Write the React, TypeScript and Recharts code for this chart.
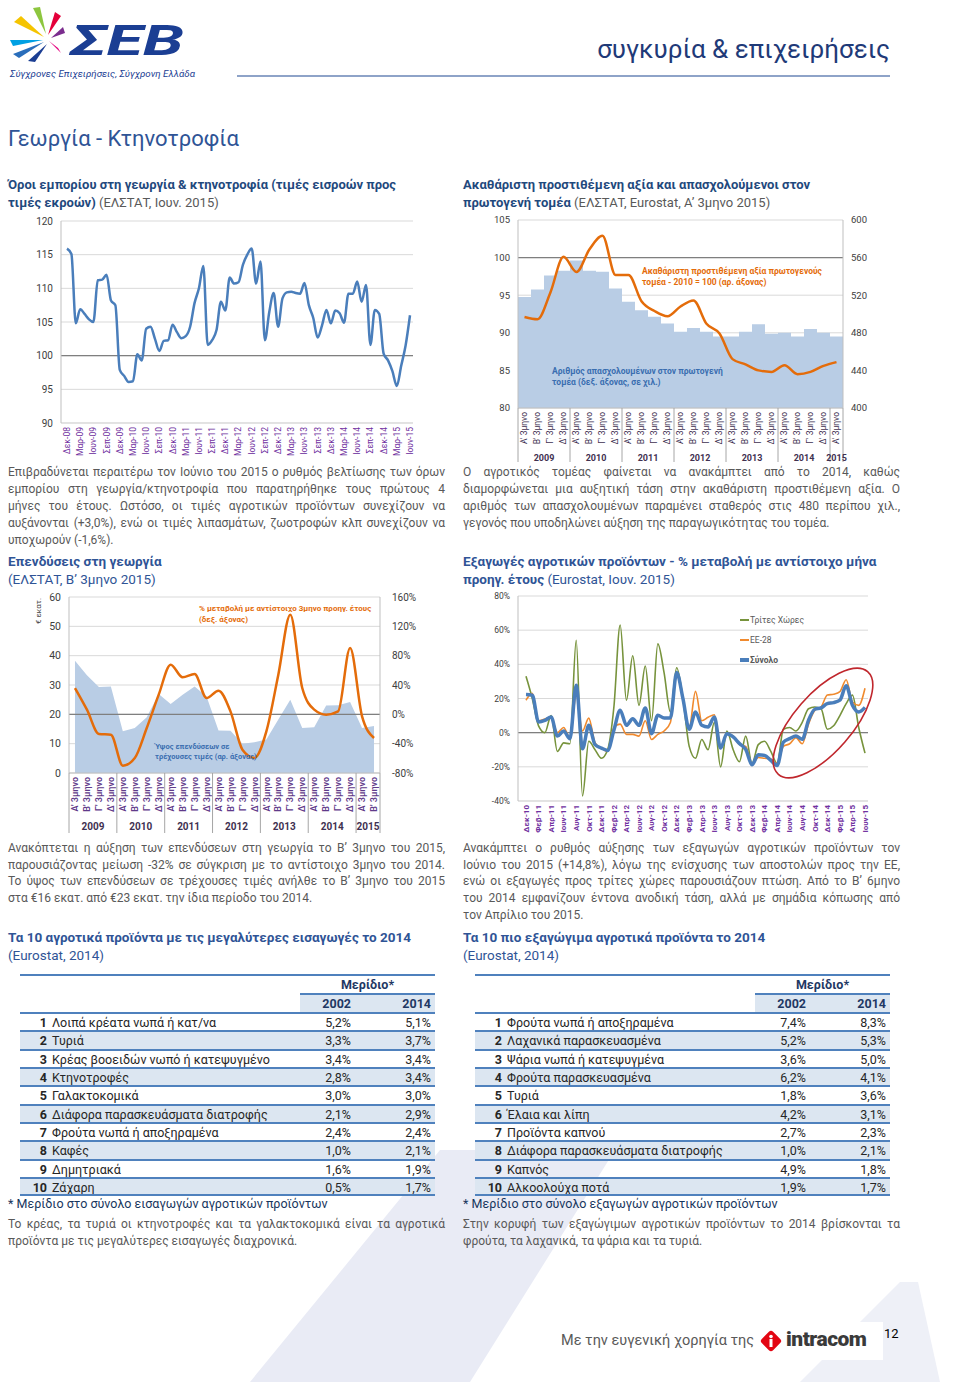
import React from "react";
import {
  LineChart,
  Line,
  ComposedChart,
  Bar,
  Area,
  XAxis,
  YAxis,
  CartesianGrid,
  ReferenceLine,
} from "recharts";

const FONT = "Roboto, 'Noto Sans', 'DejaVu Sans', sans-serif";
const TITLE_BLUE = "#1F497D";
const HEAD_BLUE = "#2F5496";
const TEXT_GREY = "#595959";
const AXIS_TXT = "#404040";
const GRID = "#D9D9D9";
const ZERO = "#7F7F7F";
const PURPLE = "#7030A0";
const LINE_BLUE = "#4A7EBB";
const ORANGE = "#E46C0A";
const LIGHT_BLUE = "#B9CDE5";
const GREEN = "#77933C";
const EU_ORANGE = "#F08A2E";

// month / quarter category helpers
const MONTHS = ["Ιαν", "Φεβ", "Μαρ", "Απρ", "Μαϊ", "Ιουν", "Ιουλ", "Αυγ", "Σεπ", "Οκτ", "Νοε", "Δεκ"];
function monthSeq(year: number, month: number, count: number) {
  const out: string[] = [];
  for (let i = 0; i < count; i++) {
    const m = (month + i) % 12;
    const y = year + Math.floor((month + i) / 12);
    out.push(`${MONTHS[m]}-${String(y % 100).padStart(2, "0")}`);
  }
  return out;
}
const QUARTERS = ["Α' 3μηνο", "Β' 3μηνο", "Γ' 3μηνο", "Δ' 3μηνο"];
function quarterYears(years: string[], counts: number[]) {
  const out: string[] = [];
  years.forEach((y, i) => {
    for (let k = 0; k < counts[i]; k++) out.push(y);
  });
  return out;
}

// --- Όροι εμπορίου (Δεκ-08 .. Ιουν-15)
const TERMS_MONTHS = monthSeq(2008, 11, 79);
const TERMS_OF_TRADE = [
  115.9, 115.1, 104.8, 106.9, 106.2, 105.4, 105.0, 111.2, 111.3, 112.0,
  108.2, 107.5, 97.9, 97.0, 96.1, 96.2, 100.2, 99.3, 104.0, 104.3,
  102.5, 100.7, 102.2, 102.3, 104.6, 103.5, 102.6, 102.9, 104.3, 107.8,
  110.0, 113.3, 101.6, 102.3, 103.8, 108.0, 106.7, 111.6, 110.7, 110.9,
  113.5, 115.0, 115.9, 110.7, 114.0, 102.3, 106.5, 109.3, 104.3, 108.5,
  109.4, 109.5, 109.3, 109.2, 110.8, 107.5, 105.6, 102.7, 104.5, 106.8,
  104.8, 106.7, 106.3, 104.9, 109.2, 109.2, 111.0, 108.0, 110.5, 101.6,
  106.8, 106.2, 100.3, 99.3, 97.7, 95.5, 98.5, 101.5, 106.0,
];
const TERMS_TICKS = [90, 95, 100, 105, 110, 115, 120];

// --- ΑΠΑ & απασχολούμενοι (Α' 3μηνο 2009 .. Α' 3μηνο 2015)
const GVA_YEARS = quarterYears(["2009", "2010", "2011", "2012", "2013", "2014", "2015"], [4, 4, 4, 4, 4, 4, 1]);
const GVA_INDEX = [
  92.1, 91.8, 95.4, 100.1, 98.1, 101.1, 102.9, 97.7, 97.7, 94.2, 92.9, 92.2,
  93.5, 94.3, 91.2, 89.9, 86.5, 85.8, 85.0, 84.8, 85.7, 84.5, 84.8, 85.6, 86.1,
];
const EMPLOYED = [
  518, 526, 541, 546, 557, 546, 545, 527, 513, 504, 497, 490,
  481, 485, 481, 476, 476, 481, 489, 479, 480, 476, 484, 480, 476,
];
const GVA_LEFT_TICKS = [80, 85, 90, 95, 100, 105];
const GVA_RIGHT_TICKS = [400, 440, 480, 520, 560, 600];

// --- Επενδύσεις (Α' 3μηνο 2009 .. Β' 3μηνο 2015)
const INV_YEARS = quarterYears(["2009", "2010", "2011", "2012", "2013", "2014", "2015"], [4, 4, 4, 4, 4, 4, 2]);
const INVESTMENT = [
  38.3, 33.3, 29.3, 29.5, 14.2, 15.3, 19.0, 26.9, 23.5, 26.7, 29.5, 26.1, 14.5,
  14.4, 10.0, 10.5, 11.4, 18.2, 25.0, 15.3, 15.6, 23.0, 23.1, 24.2, 15.3, 16.0,
];
const INV_CHANGE = [
  35.9, 6.4, -26.8, -27.7, -70, -59.5, -18.6, 26.8, 67.7, 50.5, 55, 22.3, 32.3,
  4, -48.2, -59.5, -23.2, 54.1, 135.9, 35.9, 6.4, -0.5, 4, 90.5, -2.7, -32.3,
];
const INV_LEFT_TICKS = [0, 10, 20, 30, 40, 50, 60];
const INV_RIGHT_TICKS = [-80, -40, 0, 40, 80, 120, 160];

// --- Εξαγωγές (Δεκ-10 .. Ιουν-15)
const EXP_MONTHS = monthSeq(2010, 11, 55);
const EXP_THIRD = [
  33, 20, 4, 0, 10, -11, -6, -6.5, 54, -37, -5, -10, -15, -10, 15, 63, 19, 45, 16, 39,
  7, 52, 35, 12, 38, 20, -8, -15, -4, -10, 6, -20, 1, -10, -17, -2, -18, -7, -5, -11,
  -18, 2, 3, 1, 6, 14, 15, 14, 2, 4, 10, 17, 22, 3, -12,
];
const EXP_EU28 = [
  19, 23, 7, 8, 9, 0, 3, -3, 21.9, 1, 8.5, -6, -9, -11, 3, 5, -1, -1, -2, 7,
  -4, -1, 1, 6, 34, 20, 3, 24.2, 7, 9, 10.5, -9, -0.5, -2, -7, -8, -18.5, -14.5, -15, -15.5,
  -18, -8, -6.5, -3, -6.5, 5, 13, 15, 22, 22.5, 24, 31, 18, 16, 26,
];
const EXP_TOTAL = [
  22.3, 21.9, 6.3, 7.2, 9.2, -2, 1, -3.5, 27.7, -9.4, 4.3, -7, -9, -10.4, 1.4, 13.1, 4.3, 8.2, 4.3, 14.5,
  -0.6, 10.2, 8.6, 8.6, 35.2, 19.9, 2, 12.1, 4.3, 3.3, 9.2, -9, -0.6, -2.5, -6.4, -9.8, -18.8, -12.9, -13.3, -16.2,
  -19.2, -5.5, -3.5, -2, -3.9, 7.2, 13.7, 14.5, 17, 17.6, 19, 27.4, 16, 12.1, 14.8,
];
const EXP_TICKS = [-40, -20, 0, 20, 40, 60, 80];

// --- Πίνακες
const IMP_PRODUCTS = [
  "Λοιπά κρέατα νωπά ή κατ/να",
  "Τυριά",
  "Κρέας βοοειδών νωπό ή κατεψυγμένο",
  "Κτηνοτροφές",
  "Γαλακτοκομικά",
  "Διάφορα παρασκευάσματα διατροφής",
  "Φρούτα νωπά ή αποξηραμένα",
  "Καφές",
  "Δημητριακά",
  "Ζάχαρη",
];
const IMP_2002 = ["5,2%", "3,3%", "3,4%", "2,8%", "3,0%", "2,1%", "2,4%", "1,0%", "1,6%", "0,5%"];
const IMP_2014 = ["5,1%", "3,7%", "3,4%", "3,4%", "3,0%", "2,9%", "2,4%", "2,1%", "1,9%", "1,7%"];
const EXP_PRODUCTS = [
  "Φρούτα νωπά ή αποξηραμένα",
  "Λαχανικά παρασκευασμένα",
  "Ψάρια νωπά ή κατεψυγμένα",
  "Φρούτα παρασκευασμένα",
  "Τυριά",
  "Έλαια και λίπη",
  "Προϊόντα καπνού",
  "Διάφορα παρασκευάσματα διατροφής",
  "Καπνός",
  "Αλκοολούχα ποτά",
];
const EXP_2002 = ["7,4%", "5,2%", "3,6%", "6,2%", "1,8%", "4,2%", "2,7%", "1,0%", "4,9%", "1,9%"];
const EXP_2014 = ["8,3%", "5,3%", "5,0%", "4,1%", "3,6%", "3,1%", "2,3%", "2,1%", "1,8%", "1,7%"];

// chart tables built from the arrays
const termsData = TERMS_MONTHS.map((m, i) => ({ m, v: TERMS_OF_TRADE[i] }));
const gvaData = GVA_INDEX.map((v, i) => ({ k: `g${i}`, q: QUARTERS[i % 4], yr: GVA_YEARS[i], gva: v, emp: EMPLOYED[i] }));
const invData = INVESTMENT.map((v, i) => ({ k: `i${i}`, q: QUARTERS[i % 4], yr: INV_YEARS[i], inv: v, chg: INV_CHANGE[i] }));
const expData = EXP_MONTHS.map((m, i) => ({ m, third: EXP_THIRD[i], eu: EXP_EU28[i], total: EXP_TOTAL[i] }));

function RotTick(props: any) {
  const { x, y, payload, labels, color, size, weight } = props;
  const txt = labels ? labels[props.index] : payload.value;
  return (
    <text
      x={x}
      y={y}
      transform={`rotate(-90 ${x} ${y})`}
      dy={size * 0.35}
      textAnchor="end"
      fill={color}
      fontSize={size}
      fontWeight={weight || 400}
      fontFamily={FONT}
    >
      {txt}
    </text>
  );
}

function makeYearTick(years: string[], bw: number, up: number, baseDy: number, down: number, size: number) {
  return function YearTick(props: any) {
    const { x, y, index } = props;
    const cur = years[index];
    const first = index === 0 || years[index - 1] !== cur;
    const last = index === years.length - 1;
    let n = 0;
    for (let k = index; k < years.length && years[k] === cur; k++) n++;
    return (
      <g>
        {first && (
          <line x1={x - bw / 2} x2={x - bw / 2} y1={y - up} y2={y + down} stroke="#A6A6A6" strokeWidth={1} />
        )}
        {last && <line x1={x + bw / 2} x2={x + bw / 2} y1={y - up} y2={y + down} stroke="#A6A6A6" strokeWidth={1} />}
        {first && (
          <text x={x + ((n - 1) * bw) / 2} y={y + baseDy} textAnchor="middle" fill="#3F3151" fontSize={size} fontWeight={700} fontFamily={FONT}>
            {cur}
          </text>
        )}
      </g>
    );
  };
}

const pct = (v: number) => `${v}%`;

function Lines({ x, y, w, lh, size, color, lines, justify = true }: any) {
  return (
    <div style={{ position: "absolute", left: x, top: y, width: w, fontSize: size, lineHeight: `${lh}px`, color }}>
      {lines.map((t: any, i: number) => (
        <div
          key={i}
          style={{
            textAlign: justify ? "justify" : "left",
            textAlignLast: justify && i < lines.length - 1 ? "justify" : "left",
            whiteSpace: "nowrap",
          }}
        >
          {t}
        </div>
      ))}
    </div>
  );
}

function Note({ x, y, color, size, lines }: any) {
  return (
    <div style={{ position: "absolute", left: x, top: y, color, fontSize: size, fontWeight: 700, lineHeight: `${size + 2.5}px`, whiteSpace: "nowrap" }}>
      {lines.map((t: string, i: number) => (
        <div key={i}>{t}</div>
      ))}
    </div>
  );
}

function ShareTable({ x, products, v2002, v2014 }: any) {
  const rowH = 18.33;
  const top = 1012;
  const bl = "2px solid #4F81BD";
  return (
    <div style={{ position: "absolute", left: x, top: 974, width: 415, fontSize: 12.5, color: "#262626" }}>
      <div style={{ position: "absolute", left: 0, top: 0, width: 415, borderTop: bl }} />
      <div style={{ position: "absolute", left: 280, top: 2, width: 135, height: 17, textAlign: "center", fontWeight: 700, color: "#1F3864", lineHeight: "17px" }}>
        Μερίδιο*
      </div>
      <div style={{ position: "absolute", left: 280, top: 19, width: 135, height: 18, background: "#DCE6F1", borderTop: bl }} />
      <div style={{ position: "absolute", left: 280, top: 21, width: 51, textAlign: "right", fontWeight: 700, lineHeight: "17px", color: "#1F3864" }}>2002</div>
      <div style={{ position: "absolute", left: 280, top: 21, width: 131, textAlign: "right", fontWeight: 700, lineHeight: "17px", color: "#1F3864" }}>2014</div>
      {products.map((p: string, i: number) => (
        <div
          key={p}
          style={{
            position: "absolute",
            left: 0,
            top: top - 974 + i * rowH,
            width: 415,
            height: rowH,
            borderTop: bl,
            background: i % 2 === 1 ? "#DCE6F1" : "transparent",
            lineHeight: `${rowH - 1}px`,
            boxSizing: "border-box",
          }}
        >
          <span style={{ position: "absolute", left: 0, width: 27, textAlign: "right", fontWeight: 700 }}>{i + 1}</span>
          <span style={{ position: "absolute", left: 32 }}>{p}</span>
          <span style={{ position: "absolute", left: 280, width: 51, textAlign: "right" }}>{v2002[i]}</span>
          <span style={{ position: "absolute", left: 280, width: 131, textAlign: "right" }}>{v2014[i]}</span>
        </div>
      ))}
      <div style={{ position: "absolute", left: 0, top: top - 974 + 10 * rowH - 1, width: 415, borderTop: bl }} />
    </div>
  );
}

function Logo() {
  return (
    <svg style={{ position: "absolute", left: 0, top: 0 }} width={220} height={85}>
      <polygon points="14,22 21,16 44,37" fill="#F5C400" />
      <polygon points="33,8 40,7 46,34" fill="#8DC63F" />
      <polygon points="55,12 61,16 48,35" fill="#E4003A" />
      <polygon points="63,27 65,33 51,38" fill="#7B2D8E" />
      <polygon points="58,48 61,53 49,41" fill="#E5007E" />
      <polygon points="10,40 13,46 43,40" fill="#00A0E3" />
      <polygon points="13,54 19,58 44,42" fill="#2A6EBB" />
      <polygon points="28,61 35,62 47,44" fill="#1B3E93" />
      <text x={70} y={55} fontSize={42} fontWeight={700} fontStyle="italic" fill="#1B3E93" fontFamily={FONT} textLength={114} lengthAdjust="spacingAndGlyphs">
        ΣΕΒ
      </text>
      <text x={10} y={77} fontSize={9.5} fontStyle="italic" fill="#1B3E93" fontFamily={FONT} textLength={185} lengthAdjust="spacingAndGlyphs">
        Σύγχρονες Επιχειρήσεις, Σύγχρονη Ελλάδα
      </text>
    </svg>
  );
}

function Background() {
  return (
    <svg style={{ position: "absolute", left: 0, top: 0 }} width={960} height={1382}>
      <polygon points="440,1150 615,1150 470,1382 250,1382" fill="#E9EBF5" />
      <polygon points="900,1282 918,1282 940,1382 800,1382" fill="#EEF0F7" />
    </svg>
  );
}

export default function App() {
  const tickStyle = (size: number) => ({ fill: AXIS_TXT, fontSize: size, fontFamily: FONT });
  return (
    <div style={{ position: "absolute", left: 0, top: 0, width: 960, height: 1382, background: "#fff", fontFamily: FONT, overflow: "hidden" }}>
      <Background />
      <Logo />
      <div style={{ position: "absolute", right: 70, top: 34, fontSize: 26, color: "#1F3A78", whiteSpace: "nowrap" }}>συγκυρία &amp; επιχειρήσεις</div>
      <div style={{ position: "absolute", left: 237, top: 75, width: 653, height: 2, background: "#8EA3C8" }} />
      <div style={{ position: "absolute", left: 8, top: 126, fontSize: 22, color: HEAD_BLUE, whiteSpace: "nowrap" }}>Γεωργία - Κτηνοτροφία</div>

      {/* chart titles, row 1 */}
      <Lines
        x={8}
        y={176}
        w={440}
        lh={18}
        size={13}
        color={TEXT_GREY}
        justify={false}
        lines={[
          <b style={{ color: TITLE_BLUE }}>Όροι εμπορίου στη γεωργία &amp; κτηνοτροφία (τιμές εισροών προς</b>,
          <span>
            <b style={{ color: TITLE_BLUE }}>τιμές εκροών)</b> (ΕΛΣΤΑΤ, Ιουν. 2015)
          </span>,
        ]}
      />
      <Lines
        x={463}
        y={176}
        w={440}
        lh={18}
        size={13}
        color={TEXT_GREY}
        justify={false}
        lines={[
          <b style={{ color: TITLE_BLUE }}>Ακαθάριστη προστιθέμενη αξία και απασχολούμενοι στον</b>,
          <span>
            <b style={{ color: TITLE_BLUE }}>πρωτογενή τομέα</b> (ΕΛΣΤΑΤ, Eurostat, Α’ 3μηνο 2015)
          </span>,
        ]}
      />

      {/* Chart 1: terms of trade */}
      <div style={{ position: "absolute", left: 0, top: 212 }}>
        <LineChart width={430} height={250} data={termsData} margin={{ top: 9, right: 17, bottom: 0, left: 0 }}>
          <CartesianGrid vertical={false} stroke={GRID} />
          <XAxis
            dataKey="m"
            interval={2}
            height={39}
            tickSize={0}
            tickMargin={4}
            padding={{ left: 6, right: 3 }}
            axisLine={{ stroke: GRID }}
            tickLine={false}
            tick={(p: any) => <RotTick {...p} color={PURPLE} size={8.5} />}
          />
          <YAxis domain={[90, 120]} ticks={TERMS_TICKS} width={61} axisLine={{ stroke: "#BFBFBF" }} tickLine={false} tick={tickStyle(10)} />
          <ReferenceLine y={100} stroke={ZERO} strokeWidth={1.2} />
          <Line type="monotone" dataKey="v" stroke={LINE_BLUE} strokeWidth={2.5} dot={false} isAnimationActive={false} />
        </LineChart>
      </div>

      {/* Chart 2: GVA & employment */}
      <div style={{ position: "absolute", left: 460, top: 212 }}>
        <ComposedChart width={420} height={253} data={gvaData} barCategoryGap={0} margin={{ top: 8, right: 0, bottom: 0, left: 0 }}>
          <CartesianGrid vertical={false} stroke={GRID} yAxisId="l" />
          <XAxis
            dataKey="k"
            scale="band"
            interval={0}
            height={42}
            tickSize={0}
            tickMargin={4}
            axisLine={{ stroke: "#BFBFBF" }}
            tickLine={false}
            tick={(p: any) => <RotTick {...p} labels={gvaData.map((d) => d.q)} color="#403151" size={8.5} />}
          />
          <XAxis
            xAxisId="yr"
            dataKey="k"
            scale="band"
            interval={0}
            height={15}
            tickSize={0}
            tickMargin={0}
            axisLine={false}
            tickLine={false}
            tick={makeYearTick(GVA_YEARS, 13, 42, 11, 12, 9)}
          />
          <YAxis yAxisId="l" domain={[80, 105]} ticks={GVA_LEFT_TICKS} width={58} axisLine={{ stroke: "#BFBFBF" }} tickLine={false} tick={tickStyle(9.5)} />
          <YAxis yAxisId="r" orientation="right" domain={[400, 600]} ticks={GVA_RIGHT_TICKS} width={37} axisLine={{ stroke: "#BFBFBF" }} tickLine={false} tick={tickStyle(9.5)} />
          <Bar yAxisId="r" dataKey="emp" fill={LIGHT_BLUE} isAnimationActive={false} />
          <ReferenceLine yAxisId="l" y={100} stroke={ZERO} strokeWidth={1.2} />
          <Line yAxisId="l" type="monotone" dataKey="gva" stroke={ORANGE} strokeWidth={2.5} dot={false} isAnimationActive={false} />
        </ComposedChart>
      </div>
      <Note x={642} y={266} color={ORANGE} size={8.5} lines={["Ακαθάριστη προστιθέμενη αξία πρωτογενούς", "τομέα - 2010 = 100 (αρ. άξονας)"]} />
      <Note x={552} y={366} color="#3A6DB0" size={8.5} lines={["Αριθμός απασχολουμένων στον πρωτογενή", "τομέα (δεξ. άξονας, σε χιλ.)"]} />

      {/* paragraphs under row 1 */}
      <Lines
        x={8}
        y={464}
        w={437}
        lh={17}
        size={12}
        color={TEXT_GREY}
        lines={[
          "Επιβραδύνεται περαιτέρω τον Ιούνιο του 2015 ο ρυθμός βελτίωσης των όρων",
          "εμπορίου στη γεωργία/κτηνοτροφία που παρατηρήθηκε τους πρώτους 4",
          "μήνες του έτους. Ωστόσο, οι τιμές αγροτικών προϊόντων συνεχίζουν να",
          "αυξάνονται (+3,0%), ενώ οι τιμές λιπασμάτων, ζωοτροφών κλπ συνεχίζουν να",
          "υποχωρούν (-1,6%).",
        ]}
      />
      <Lines
        x={463}
        y={464}
        w={437}
        lh={17}
        size={12}
        color={TEXT_GREY}
        lines={[
          "Ο αγροτικός τομέας φαίνεται να ανακάμπτει από το 2014, καθώς",
          "διαμορφώνεται μια αυξητική τάση στην ακαθάριστη προστιθέμενη αξία. Ο",
          "αριθμός των απασχολουμένων παραμένει σταθερός στις 480 περίπου χιλ.,",
          "γεγονός που υποδηλώνει αύξηση της παραγωγικότητας του τομέα.",
        ]}
      />

      {/* chart titles, row 2 */}
      <Lines
        x={8}
        y={552}
        w={440}
        lh={18}
        size={13.5}
        color={HEAD_BLUE}
        justify={false}
        lines={[<b>Επενδύσεις στη γεωργία</b>, "(ΕΛΣΤΑΤ, Β’ 3μηνο 2015)"]}
      />
      <Lines
        x={463}
        y={552}
        w={440}
        lh={18}
        size={13.5}
        color={HEAD_BLUE}
        justify={false}
        lines={[
          <b>Εξαγωγές αγροτικών προϊόντων - % μεταβολή με αντίστοιχο μήνα</b>,
          <span>
            <b>προηγ. έτους</b> (Eurostat, Ιουν. 2015)
          </span>,
        ]}
      />

      {/* Chart 3: investment */}
      <div style={{ position: "absolute", left: 0, top: 590 }}>
        <ComposedChart width={425} height={243} data={invData} margin={{ top: 7, right: 0, bottom: 0, left: 0 }}>
          <CartesianGrid vertical={false} stroke={GRID} yAxisId="l" />
          <XAxis
            dataKey="k"
            scale="band"
            interval={0}
            height={42}
            tickSize={0}
            tickMargin={4}
            axisLine={{ stroke: "#BFBFBF" }}
            tickLine={false}
            tick={(p: any) => <RotTick {...p} labels={invData.map((d) => d.q)} color="#5F3A8A" size={9} weight={600} />}
          />
          <XAxis
            xAxisId="yr"
            dataKey="k"
            scale="band"
            interval={0}
            height={18}
            tickSize={0}
            tickMargin={0}
            axisLine={false}
            tickLine={false}
            tick={makeYearTick(INV_YEARS, 311 / 26, 42, 15, 20, 10)}
          />
          <YAxis yAxisId="l" domain={[0, 60]} ticks={INV_LEFT_TICKS} width={69} axisLine={{ stroke: "#BFBFBF" }} tickLine={false} tick={tickStyle(10.5)} />
          <YAxis
            yAxisId="r"
            orientation="right"
            domain={[-80, 160]}
            ticks={INV_RIGHT_TICKS}
            width={45}
            axisLine={{ stroke: "#BFBFBF" }}
            tickLine={false}
            tickMargin={6}
            tickFormatter={pct}
            tick={tickStyle(10)}
          />
          <Area yAxisId="l" type="linear" dataKey="inv" fill={LIGHT_BLUE} fillOpacity={1} stroke="none" isAnimationActive={false} />
          <ReferenceLine yAxisId="r" y={0} stroke={ZERO} strokeWidth={1.2} />
          <Line yAxisId="r" type="monotone" dataKey="chg" stroke={ORANGE} strokeWidth={2.5} dot={false} isAnimationActive={false} />
        </ComposedChart>
      </div>
      <div style={{ position: "absolute", left: 34, top: 598, fontSize: 8, color: AXIS_TXT, writingMode: "vertical-rl", transform: "rotate(180deg)", whiteSpace: "nowrap" }}>
        € εκατ.
      </div>
      <Note x={199} y={604} color={ORANGE} size={8} lines={["% μεταβολή με αντίστοιχο 3μηνο προηγ. έτους", "(δεξ. άξονας)"]} />
      <Note x={155} y={742} color="#3A6DB0" size={7.5} lines={["Ύψος επενδύσεων σε", "τρέχουσες τιμές (αρ. άξονας)"]} />

      {/* Chart 4: exports */}
      <div style={{ position: "absolute", left: 460, top: 590 }}>
        <LineChart width={428} height={247} data={expData} margin={{ top: 6, right: 20, bottom: 0, left: 0 }}>
          <CartesianGrid vertical={false} stroke={GRID} />
          <XAxis
            dataKey="m"
            interval={1}
            height={36}
            tickSize={0}
            tickMargin={4}
            padding={{ left: 8, right: 3 }}
            axisLine={{ stroke: GRID }}
            tickLine={false}
            tick={(p: any) => <RotTick {...p} color={PURPLE} size={8} weight={700} />}
          />
          <YAxis domain={[-40, 80]} ticks={EXP_TICKS} width={58} axisLine={{ stroke: "#BFBFBF" }} tickLine={false} tickFormatter={pct} tick={tickStyle(8.5)} />
          <ReferenceLine y={0} stroke={ZERO} strokeWidth={1.2} />
          <Line type="monotone" dataKey="third" stroke={GREEN} strokeWidth={1.6} dot={false} isAnimationActive={false} />
          <Line type="monotone" dataKey="eu" stroke={EU_ORANGE} strokeWidth={1.6} dot={false} isAnimationActive={false} />
          <Line type="monotone" dataKey="total" stroke={LINE_BLUE} strokeWidth={3.5} dot={false} isAnimationActive={false} />
        </LineChart>
      </div>
      <div style={{ position: "absolute", left: 740, top: 610, fontSize: 8.5, color: TEXT_GREY, lineHeight: "20px" }}>
        {[
          ["Τρίτες Χώρες", GREEN, 1.6],
          ["ΕΕ-28", EU_ORANGE, 1.6],
          ["Σύνολο", LINE_BLUE, 3.5],
        ].map(([t, c, w]: any) => (
          <div key={t} style={{ display: "flex", alignItems: "center", fontWeight: t === "Σύνολο" ? 700 : 400 }}>
            <span style={{ display: "inline-block", width: 9, height: w, background: c, marginRight: 1 }} />
            {t}
          </div>
        ))}
      </div>
      <svg style={{ position: "absolute", left: 758, top: 658 }} width={130} height={130}>
        <ellipse cx={65} cy={65} rx={68} ry={29} transform="rotate(-49 65 65)" fill="none" stroke="#C0272D" strokeWidth={1.6} />
      </svg>

      {/* paragraphs under row 2 */}
      <Lines
        x={8}
        y={840}
        w={437}
        lh={16.7}
        size={12}
        color={TEXT_GREY}
        lines={[
          "Ανακόπτεται η αύξηση των επενδύσεων στη γεωργία το Β’ 3μηνο του 2015,",
          "παρουσιάζοντας μείωση -32% σε σύγκριση με το αντίστοιχο 3μηνο του 2014.",
          "Το ύψος των επενδύσεων σε τρέχουσες τιμές ανήλθε το Β’ 3μηνο του 2015",
          "στα €16 εκατ. από €23 εκατ. την ίδια περίοδο του 2014.",
        ]}
      />
      <Lines
        x={463}
        y={840}
        w={437}
        lh={16.7}
        size={12}
        color={TEXT_GREY}
        lines={[
          "Ανακάμπτει ο ρυθμός αύξησης των εξαγωγών αγροτικών προϊόντων τον",
          "Ιούνιο του 2015 (+14,8%), λόγω της ενίσχυσης των αποστολών προς την ΕΕ,",
          "ενώ οι εξαγωγές προς τρίτες χώρες παρουσιάζουν πτώση. Από το Β’ 6μηνο",
          "του 2014 εμφανίζουν έντονα ανοδική τάση, αλλά με σημάδια κόπωσης από",
          "τον Απρίλιο του 2015.",
        ]}
      />

      {/* tables */}
      <Lines
        x={8}
        y={928}
        w={440}
        lh={18}
        size={13.5}
        color={HEAD_BLUE}
        justify={false}
        lines={[<b>Τα 10 αγροτικά προϊόντα με τις μεγαλύτερες εισαγωγές το 2014</b>, "(Eurostat, 2014)"]}
      />
      <Lines
        x={463}
        y={928}
        w={440}
        lh={18}
        size={13.5}
        color={HEAD_BLUE}
        justify={false}
        lines={[<b>Τα 10 πιο εξαγώγιμα αγροτικά προϊόντα το 2014</b>, "(Eurostat, 2014)"]}
      />
      <ShareTable x={20} products={IMP_PRODUCTS} v2002={IMP_2002} v2014={IMP_2014} />
      <ShareTable x={475} products={EXP_PRODUCTS} v2002={EXP_2002} v2014={EXP_2014} />
      <div style={{ position: "absolute", left: 8, top: 1196, fontSize: 12.5, color: "#17365D", whiteSpace: "nowrap" }}>
        * Μερίδιο στο σύνολο εισαγωγών αγροτικών προϊόντων
      </div>
      <div style={{ position: "absolute", left: 463, top: 1196, fontSize: 12.5, color: "#17365D", whiteSpace: "nowrap" }}>
        * Μερίδιο στο σύνολο εξαγωγών αγροτικών προϊόντων
      </div>
      <Lines
        x={8}
        y={1216}
        w={437}
        lh={17}
        size={12}
        color={TEXT_GREY}
        lines={[
          "Το κρέας, τα τυριά οι κτηνοτροφές και τα γαλακτοκομικά είναι τα αγροτικά",
          "προϊόντα με τις μεγαλύτερες εισαγωγές διαχρονικά.",
        ]}
      />
      <Lines
        x={463}
        y={1216}
        w={437}
        lh={17}
        size={12}
        color={TEXT_GREY}
        lines={[
          "Στην κορυφή των εξαγώγιμων αγροτικών προϊόντων το 2014 βρίσκονται τα",
          "φρούτα, τα λαχανικά, τα ψάρια και τα τυριά.",
        ]}
      />

      {/* footer */}
      <div style={{ position: "absolute", left: 553, top: 1322, width: 330, height: 38, background: "#fff" }} />
      <div style={{ position: "absolute", left: 561, top: 1332, fontSize: 14.5, color: TEXT_GREY, whiteSpace: "nowrap" }}>Με την ευγενική χορηγία της</div>
      <svg style={{ position: "absolute", left: 758, top: 1329 }} width={28} height={26}>
        <rect x={5} y={4} width={16} height={16} rx={3} transform="rotate(45 13 12)" fill="#E30613" />
        <circle cx={13} cy={7.5} r={1.8} fill="#fff" />
        <rect x={11.5} y={10} width={3} height={8} fill="#fff" />
      </svg>
      <div style={{ position: "absolute", left: 786, top: 1327, fontSize: 21, fontWeight: 900, color: "#3A3A3A", whiteSpace: "nowrap", letterSpacing: -0.5 }}>intracom</div>
      <div style={{ position: "absolute", left: 884, top: 1326, fontSize: 13, color: "#000" }}>12</div>
    </div>
  );
}
